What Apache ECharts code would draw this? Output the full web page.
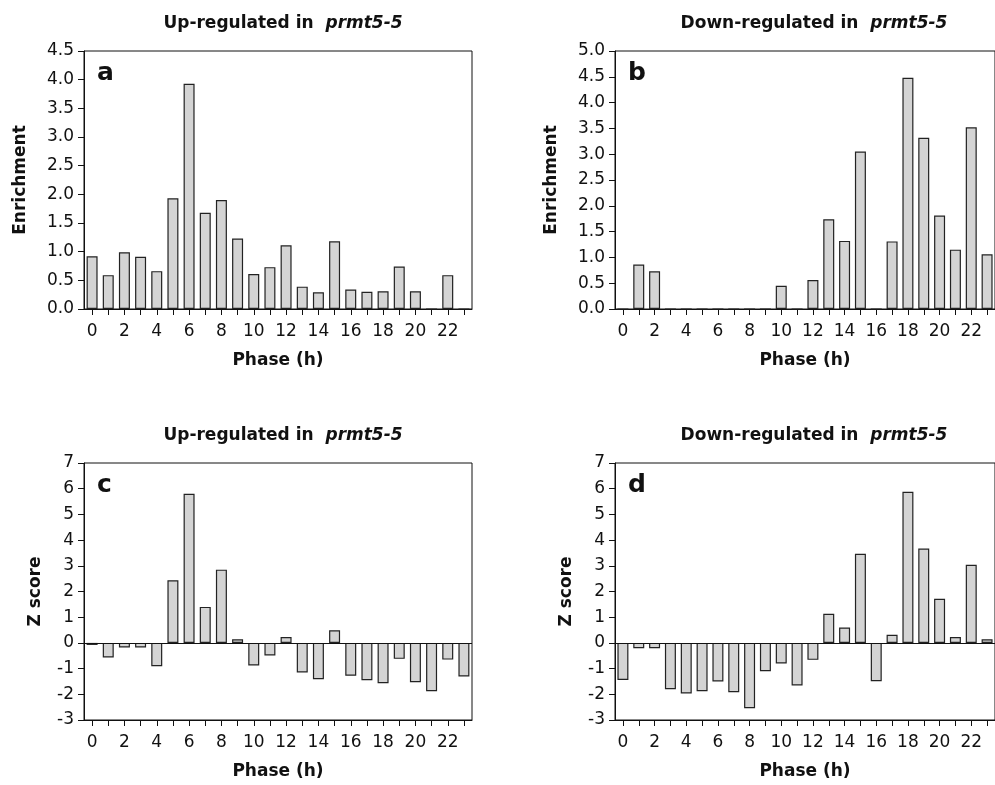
<!DOCTYPE html>
<html>
<head>
<meta charset="utf-8">
<title>prmt5-5 phase enrichment</title>
<script src="https://cdn.jsdelivr.net/npm/echarts@6/dist/echarts.min.js"></script>
<style>
  html, body { margin: 0; padding: 0; background: #fff; }
  #chart { width: 995px; height: 785px; }
</style>
</head>
<body>
<div id="chart"></div>
<script>
// 相位 (h) 类别
const phases = ['0', '1', '2', '3', '4', '5', '6', '7', '8', '9', '10', '11',
  '12', '13', '14', '15', '16', '17', '18', '19', '20', '21', '22', '23'];

// a: Up-regulated 富集度
const upEnrichment = [0.92, 0.59, 0.99, 0.91, 0.66, 1.93, 3.93, 1.68, 1.90, 1.23, 0.61, 0.73,
  1.11, 0.39, 0.29, 1.18, 0.34, 0.30, 0.31, 0.74, 0.31, 0, 0.59, 0];

// b: Down-regulated 富集度
const downEnrichment = [0, 0.86, 0.73, 0, 0, 0, 0, 0, 0, 0, 0.45, 0,
  0.56, 1.74, 1.32, 3.05, 0, 1.31, 4.48, 3.32, 1.81, 1.15, 3.52, 1.06];

// c: Up-regulated Z score
const upZScore = [-0.08, -0.57, -0.18, -0.18, -0.91, 2.44, 5.80, 1.40, 2.85, 0.14, -0.88, -0.49,
  0.23, -1.15, -1.41, 0.49, -1.28, -1.45, -1.57, -0.62, -1.53, -1.88, -0.65, -1.31];

// d: Down-regulated Z score
const downZScore = [-1.44, -0.21, -0.21, -1.80, -1.97, -1.88, -1.50, -1.92, -2.54, -1.10, -0.80, -1.66,
  -0.66, 1.13, 0.60, 3.47, -1.49, 0.32, 5.88, 3.67, 1.72, 0.23, 3.04, 0.14];

const panelTitles = ['Up-regulated in  ', 'Down-regulated in  ', 'Up-regulated in  ', 'Down-regulated in  '];
const panelLetters = ['a', 'b', 'c', 'd'];

const FONT = 'DejaVu Sans';
const INK = '#111';

// 四个面板的位置 (b, d 右边被裁掉)
const grids = [
  { left: 84, top: 51, width: 388, height: 258 },
  { left: 615, top: 51, width: 388, height: 258 },
  { left: 84, top: 463, width: 388, height: 257 },
  { left: 615, top: 463, width: 388, height: 257 }
];

const yAxes = [
  { min: 0, max: 4.5, interval: 0.5, name: 'Enrichment', gap: 55, dec: 1 },
  { min: 0, max: 5, interval: 0.5, name: 'Enrichment', gap: 55, dec: 1 },
  { min: -3, max: 7, interval: 1, name: 'Z score', gap: 40, dec: 0 },
  { min: -3, max: 7, interval: 1, name: 'Z score', gap: 40, dec: 0 }
];

const seriesData = [upEnrichment, downEnrichment, upZScore, downZScore];

const chart = echarts.init(document.getElementById('chart'));

const option = {
  backgroundColor: '#fff',
  animation: false,
  grid: grids.map(g => Object.assign({
    show: true,
    borderColor: INK,
    borderWidth: 1,
    backgroundColor: 'transparent'
  }, g)),
  title: [],
  xAxis: grids.map((g, i) => ({
    type: 'category',
    gridIndex: i,
    data: phases,
    position: 'bottom',
    axisLine: { onZero: false, lineStyle: { color: INK, width: 1 } },
    axisTick: { show: true, interval: 0, alignWithLabel: true, length: 6, lineStyle: { color: INK } },
    axisLabel: { interval: 1, margin: 14, color: INK, fontFamily: FONT, fontSize: 17 },
    name: 'Phase (h)',
    nameLocation: 'middle',
    nameGap: 43,
    nameTextStyle: { color: INK, fontFamily: FONT, fontSize: 17, fontWeight: 'bold' },
    splitLine: { show: false }
  })),
  yAxis: yAxes.map((y, i) => ({
    type: 'value',
    gridIndex: i,
    min: y.min,
    max: y.max,
    interval: y.interval,
    axisLine: { show: true, lineStyle: { color: INK, width: 1 } },
    axisTick: { show: true, length: 6, lineStyle: { color: INK } },
    axisLabel: {
      margin: 10, color: INK, fontFamily: FONT, fontSize: 17,
      formatter: v => v.toFixed(y.dec)
    },
    name: y.name,
    nameLocation: 'middle',
    nameGap: y.gap,
    nameTextStyle: { color: INK, fontFamily: FONT, fontSize: 17, fontWeight: 'bold' },
    splitLine: { show: false }
  })),
  series: seriesData.map((d, i) => {
    const s = {
      type: 'bar',
      xAxisIndex: i,
      yAxisIndex: i,
      data: d,
      barWidth: 11,
      itemStyle: { color: '#d4d4d4', borderColor: '#222', borderWidth: 1.2 },
      emphasis: { disabled: true }
    };
    // Z score 面板画零线
    if (i >= 2) {
      s.markLine = {
        silent: true,
        symbol: 'none',
        label: { show: false },
        lineStyle: { color: INK, type: 'solid', width: 1 },
        data: [{ yAxis: 0 }]
      };
    }
    return s;
  })
};

// 标题与面板字母
grids.forEach((g, i) => {
  option.title.push({
    text: '{b|' + panelTitles[i] + '}{i|prmt5-5}',
    left: g.left + g.width / 2,
    top: g.top - 41,
    textAlign: 'center',
    textStyle: {
      rich: {
        b: { fontFamily: FONT, fontSize: 17, fontWeight: 'bold', color: INK },
        i: { fontFamily: FONT, fontSize: 17, fontWeight: 'bold', fontStyle: 'italic', color: INK }
      }
    }
  });
  option.title.push({
    text: panelLetters[i],
    left: g.left + 8,
    top: g.top + 5,
    textStyle: { fontFamily: FONT, fontSize: 25, fontWeight: 'bold', color: INK }
  });
});

chart.setOption(option);
</script>
</body>
</html>
